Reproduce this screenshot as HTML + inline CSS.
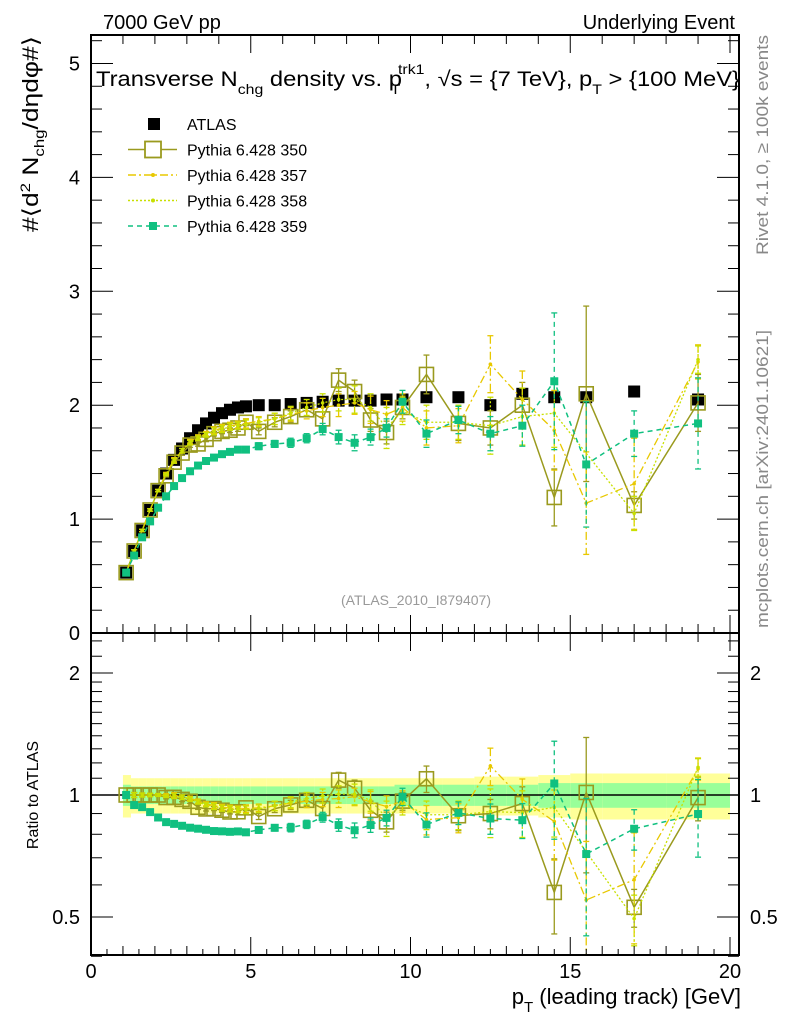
<!DOCTYPE html>
<html><head><meta charset="utf-8"><style>
body{margin:0;background:#fff}
svg{display:block;font-family:"Liberation Sans",sans-serif}
</style></head><body>
<svg id="c" width="786" height="1024" viewBox="0 0 786 1024" xmlns="http://www.w3.org/2000/svg">
<rect width="786" height="1024" fill="#fff"/>
<g id="mainBands"></g>
<g id="ratioBands"></g>
<g id="series"></g>
<g id="axes"></g>
<text x="103" y="29" font-size="20">7000 GeV pp</text>
<text x="735" y="29" font-size="20" text-anchor="end">Underlying Event</text>
<text x="96" y="86" font-size="21" textLength="644" lengthAdjust="spacingAndGlyphs">Transverse N<tspan font-size="14" dy="8">chg</tspan><tspan dy="-8"> density vs. p</tspan><tspan font-size="14" dy="8" dx="-10">T</tspan><tspan font-size="14" dy="-20" dx="-2">trk1</tspan><tspan dy="12">, √s = {7 TeV}, p</tspan><tspan font-size="14" dy="8">T</tspan><tspan dy="-8"> &gt; {100 MeV}</tspan></text>
<text transform="translate(768,255) rotate(-90)" font-size="17" fill="#888" textLength="220" lengthAdjust="spacingAndGlyphs">Rivet 4.1.0, ≥ 100k events</text>
<text transform="translate(768,628) rotate(-90)" font-size="17" fill="#888" textLength="298" lengthAdjust="spacingAndGlyphs">mcplots.cern.ch [arXiv:2401.10621]</text>
<text x="416" y="605" font-size="14" fill="#999" text-anchor="middle">(ATLAS_2010_I879407)</text>
<text transform="translate(38,232) rotate(-90)" font-size="22" textLength="196" lengthAdjust="spacingAndGlyphs">#⟨d<tspan font-size="14" dy="-8">2</tspan><tspan dy="8"> N</tspan><tspan font-size="14" dy="6">chg</tspan><tspan dy="-6">/dηdφ#⟩</tspan></text>
<text transform="translate(38,795) rotate(-90)" font-size="16" text-anchor="middle">Ratio to ATLAS</text>
<text x="741" y="1004" font-size="22" text-anchor="end">p<tspan font-size="15" dy="8">T</tspan><tspan dy="-8"> (leading track) [GeV]</tspan></text>
<g id="legend"></g>
</svg>
<script>
const xs=[1.1,1.35,1.6,1.85,2.1,2.35,2.6,2.85,3.1,3.35,3.6,3.85,4.1,4.35,4.6,4.85,5.25,5.75,6.25,6.75,7.25,7.75,8.25,8.75,9.25,9.75,10.5,11.5,12.5,13.5,14.5,15.5,17,19];
const edges=[1,1.25,1.5,1.75,2,2.25,2.5,2.75,3,3.25,3.5,3.75,4,4.25,4.5,4.75,5,5.5,6,6.5,7,7.5,8,8.5,9,9.5,10,11,12,13,14,15,16,18,20];
const atlas=[0.53,0.72,0.9,1.08,1.25,1.4,1.52,1.62,1.71,1.78,1.84,1.89,1.93,1.96,1.98,1.99,2.0,2.0,2.01,2.02,2.03,2.04,2.04,2.04,2.05,2.05,2.07,2.07,2.0,2.1,2.07,2.07,2.12,2.05];
const relYellow=[0.12,0.1,0.1,0.1,0.1,0.1,0.1,0.1,0.1,0.1,0.1,0.1,0.1,0.1,0.1,0.1,0.1,0.1,0.1,0.1,0.1,0.1,0.1,0.1,0.1,0.1,0.1,0.1,0.11,0.11,0.12,0.13,0.13,0.13];
const relGreen=[0.06,0.05,0.05,0.05,0.05,0.05,0.05,0.05,0.05,0.05,0.05,0.05,0.05,0.05,0.05,0.05,0.05,0.05,0.05,0.05,0.05,0.05,0.05,0.05,0.05,0.06,0.06,0.06,0.06,0.06,0.07,0.07,0.07,0.07];
const p350=[0.53,0.72,0.9,1.08,1.25,1.38,1.5,1.58,1.65,1.66,1.7,1.75,1.77,1.78,1.8,1.85,1.77,1.85,1.9,1.96,1.88,2.22,2.12,1.87,1.76,1.98,2.27,1.84,1.8,2.0,1.19,2.1,1.12,2.02];
const e350=[0.01,0.01,0.01,0.01,0.01,0.01,0.01,0.02,0.02,0.02,0.02,0.02,0.02,0.02,0.03,0.03,0.03,0.04,0.05,0.06,0.06,0.1,0.1,0.1,0.1,0.1,0.17,0.15,0.15,0.2,0.25,0.77,0.12,0.25];
const p357=[0.53,0.72,0.9,1.08,1.25,1.4,1.52,1.6,1.68,1.72,1.75,1.78,1.8,1.82,1.83,1.84,1.86,1.88,1.92,1.95,1.98,2.0,2.02,1.96,1.92,1.98,1.8,1.82,2.36,2.05,1.78,1.14,1.31,2.38];
const e357=[0.01,0.01,0.01,0.01,0.01,0.01,0.02,0.02,0.02,0.02,0.02,0.03,0.03,0.03,0.03,0.04,0.04,0.05,0.06,0.07,0.08,0.1,0.1,0.12,0.12,0.12,0.15,0.15,0.25,0.25,0.35,0.45,0.4,0.15];
const p358=[0.53,0.72,0.9,1.08,1.25,1.39,1.51,1.6,1.67,1.71,1.74,1.77,1.79,1.81,1.82,1.83,1.85,1.88,1.93,1.98,2.02,2.05,2.05,1.98,1.8,1.95,1.85,1.85,1.82,1.9,1.93,null,1.05,2.4];
const e358=[0.01,0.01,0.01,0.01,0.01,0.01,0.02,0.02,0.02,0.02,0.02,0.03,0.03,0.03,0.03,0.04,0.04,0.05,0.06,0.07,0.08,0.1,0.12,0.12,0.18,0.12,0.15,0.15,0.25,0.25,0.3,0,0.15,0.12];
const p359=[0.53,0.68,0.84,0.98,1.1,1.2,1.29,1.36,1.42,1.47,1.51,1.54,1.57,1.59,1.61,1.61,1.64,1.66,1.67,1.71,1.79,1.72,1.67,1.72,1.8,2.03,1.75,1.87,1.75,1.82,2.21,1.48,1.75,1.84];
const e359=[0.01,0.01,0.01,0.01,0.01,0.01,0.01,0.01,0.02,0.02,0.02,0.02,0.02,0.02,0.02,0.02,0.03,0.03,0.04,0.04,0.05,0.06,0.07,0.07,0.08,0.1,0.12,0.12,0.15,0.18,0.6,0.55,0.2,0.4];
const xTicks=[0,5,10,15,20];
const yTicks=[0,1,2,3,4,5];
const rTicks=[0.5,1,2];

const NS="http://www.w3.org/2000/svg";
const L=91,R=739,T=35,MB=633,RB=955;
const X=v=>L+(v-0)*(730-L)/20;
const Y=v=>MB-v*(MB-T)/5.25;
const RY=v=>795-Math.log2(v)*122;
function mk(tag,attrs,parent){const e=document.createElementNS(NS,tag);for(const k in attrs)e.setAttribute(k,attrs[k]);parent.appendChild(e);return e;}
const ser=document.getElementById('series'),ax=document.getElementById('axes');
const mb=document.getElementById('mainBands'),rb=document.getElementById('ratioBands');

for(let i=0;i<xs.length;i++){
  const x0=X(edges[i]),x1=X(edges[i+1]);
  let r=mk('rect',{x:x0,y:RY(1+relYellow[i]),width:x1-x0,height:RY(1-relYellow[i])-RY(1+relYellow[i]),fill:'#ffff99'},rb);
  
  
  r=mk('rect',{x:x0,y:RY(1+relGreen[i]),width:x1-x0,height:RY(1-relGreen[i])-RY(1+relGreen[i]),fill:'#99ff99'},rb);
  
  
}
mk('line',{x1:L,x2:R,y1:RY(1),y2:RY(1),stroke:'#000','stroke-width':1.5},rb);

const clipM=mk('clipPath',{id:'cm'},document.getElementById('c'));mk('rect',{x:L,y:T,width:R-L,height:MB-T},clipM);
const clipR=mk('clipPath',{id:'cr'},document.getElementById('c'));mk('rect',{x:L,y:MB,width:R-L,height:RB-MB},clipR);
const gm=mk('g',{'clip-path':'url(#cm)'},ser),gr=mk('g',{'clip-path':'url(#cr)'},ser);

const models=[
 {v:p350,e:e350,c:'#9a9a1e',dash:'',w:1.5,mark:'open',name:'pythia-350'},
 {v:p357,e:e357,c:'#e8c800',dash:'8,3,2,3',w:1.3,mark:'dot',name:'pythia-357'},
 {v:p358,e:e358,c:'#c8e000',dash:'2,2',w:1.3,mark:'dot',name:'pythia-358'},
 {v:p359,e:e359,c:'#10c080',dash:'5,4',w:1.5,mark:'fill',name:'pythia-359'}];

function drawSeries(m,g,yf,ratio){
  let pts=[];
  for(let i=0;i<xs.length;i++){
    if(m.v[i]==null)continue;
    const val=ratio?m.v[i]/atlas[i]:m.v[i], err=ratio?m.e[i]/atlas[i]:m.e[i];
    pts.push([X(xs[i]),yf(val)]);
    const lo=Math.max(val-err,0.01);
    let eb=mk('line',{x1:X(xs[i]),x2:X(xs[i]),y1:yf(val+err),y2:yf(lo),stroke:m.c,'stroke-width':1.3,'stroke-dasharray':m.dash},g);
    
    
    for(const yy of [val+err,lo]) mk('line',{x1:X(xs[i])-3,x2:X(xs[i])+3,y1:yf(yy),y2:yf(yy),stroke:m.c,'stroke-width':1.3},g);
  }
  let pl=mk('polyline',{points:pts.map(p=>p.join(',')).join(' '),fill:'none',stroke:m.c,'stroke-width':m.w,'stroke-dasharray':m.dash},g);
  
  
  for(const p of pts){
    let mkr;
    if(m.mark=='open') mkr=mk('rect',{x:p[0]-7,y:p[1]-7,width:14,height:14,fill:'none',stroke:m.c,'stroke-width':1.6},g);
    else if(m.mark=='fill') mkr=mk('rect',{x:p[0]-4,y:p[1]-4,width:8,height:8,fill:m.c},g);
    else mkr=mk('circle',{cx:p[0],cy:p[1],r:1.8,fill:m.c},g);
    
    
  }
}
for(let i=0;i<xs.length;i++){
  const r=mk('rect',{x:X(xs[i])-6,y:Y(atlas[i])-6,width:12,height:12,fill:'#000'},gm);
  
  
}
for(const m of models){drawSeries(m,gm,Y,false);drawSeries(m,gr,RY,true);}

for(const [y0,y1] of [[T,MB],[MB,RB]]) mk('rect',{x:L,y:y0,width:R-L,height:y1-y0,fill:'none',stroke:'#000','stroke-width':2},ax);
for(let v=0;v<=20.01;v+=0.5){
  const x=X(v),maj=Math.abs(v%5)<1e-6,whole=Math.abs(v%1)<1e-6;
  const lb=maj?18:(whole?9:6);
  mk('line',{x1:x,x2:x,y1:RB,y2:RB-lb,stroke:'#000'},ax);
  mk('line',{x1:x,x2:x,y1:MB,y2:MB-lb,stroke:'#000'},ax);
  if(whole){const lt=maj?18:9;mk('line',{x1:x,x2:x,y1:T,y2:T+lt,stroke:'#000'},ax);mk('line',{x1:x,x2:x,y1:MB,y2:MB+lt,stroke:'#000'},ax);}
}
for(const v of xTicks){const t=mk('text',{x:X(v),y:978,'font-size':20,'text-anchor':'middle'},ax);t.textContent=v;
 
 }
for(let v=0;v<=5.25;v+=0.2){const y=Y(v),maj=Math.abs(v-Math.round(v))<1e-6,len=maj?22:11;
 mk('line',{x1:L,x2:L+len,y1:y,y2:y,stroke:'#000'},ax);mk('line',{x1:R,x2:R-len,y1:y,y2:y,stroke:'#000'},ax);}
for(const v of yTicks){const t=mk('text',{x:80,y:Y(v)+7,'font-size':20,'text-anchor':'end'},ax);t.textContent=v;
 
 }
const rminor=[0.4,0.5,0.6,0.7,0.8,0.9,1,1.1,1.2,1.3,1.4,1.5,1.6,1.7,1.8,1.9,2,2.2,2.4];
for(const v of rminor){const y=RY(v),maj=rTicks.includes(v),len=maj?22:11;
 mk('line',{x1:L,x2:L+len,y1:y,y2:y,stroke:'#000'},ax);mk('line',{x1:R,x2:R-len,y1:y,y2:y,stroke:'#000'},ax);}
for(const v of rTicks){
 let t=mk('text',{x:80,y:RY(v)+7,'font-size':20,'text-anchor':'end'},ax);t.textContent=v;
 
 
 t=mk('text',{x:750,y:RY(v)+7,'font-size':20},ax);t.textContent=v;
 
 }
const lg=document.getElementById('legend');
const entries=[['ATLAS','#000','','atlas'],['Pythia 6.428 350','#9a9a1e','','open'],['Pythia 6.428 357','#e8c800','8,3,2,3','dot'],['Pythia 6.428 358','#c8e000','2,2','dot'],['Pythia 6.428 359','#10c080','5,4','fill']];
entries.forEach((en,i)=>{
 const y=124+i*25.5;
 const g=mk('g',{},lg);
 
 
 if(en[3]=='atlas') mk('rect',{x:148,y:y-6,width:12,height:12,fill:'#000'},g);
 else{
  mk('line',{x1:128,x2:177,y1:y,y2:y,stroke:en[1],'stroke-width':1.5,'stroke-dasharray':en[2]},g);
  if(en[3]=='open') mk('rect',{x:145,y:y-8,width:16,height:16,fill:'#fff',stroke:en[1],'stroke-width':1.8},g);
  else if(en[3]=='fill') mk('rect',{x:149,y:y-4,width:8,height:8,fill:en[1]},g);
  else mk('circle',{cx:153,cy:y,r:2,fill:en[1]},g);
 }
 const t=mk('text',{x:187,y:y+6,'font-size':16},g);t.textContent=en[0];
});
</script>
</body></html>
